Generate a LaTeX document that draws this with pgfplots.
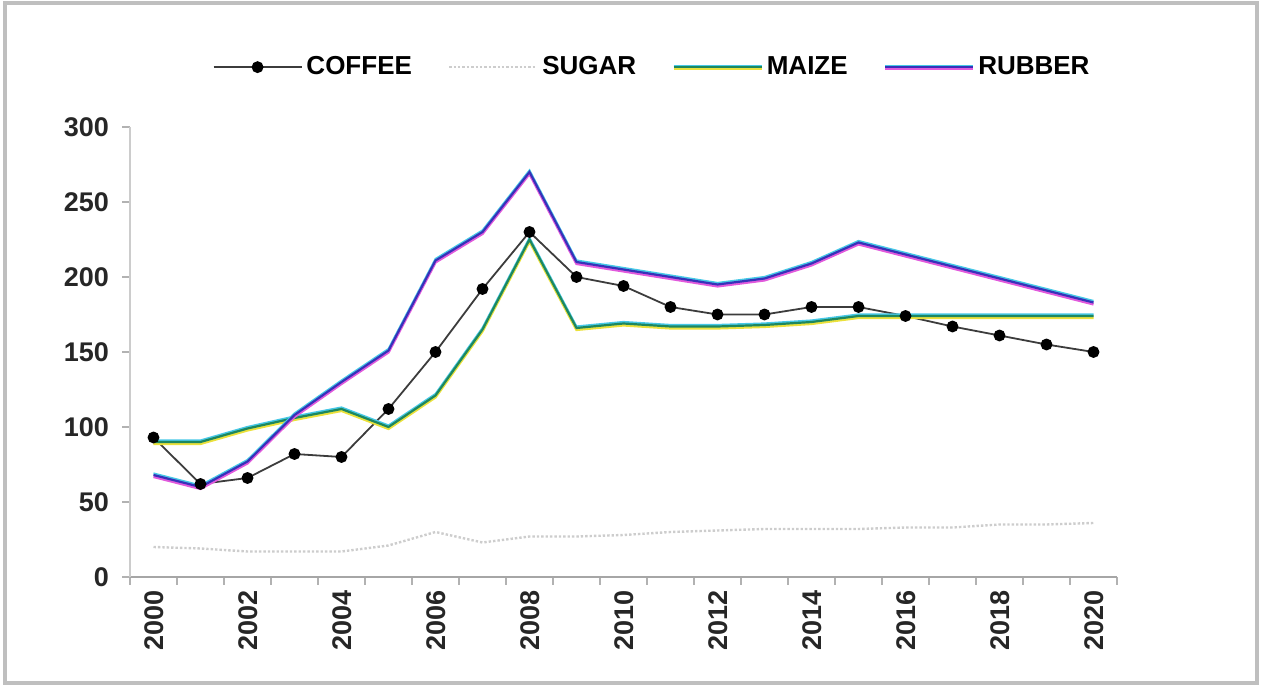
\documentclass[border=0pt]{standalone}
\usepackage{pgfplots}
\pgfplotsset{compat=1.18}
\usepackage{pgfplotstable}
\usepackage{fontspec}
\setmainfont{Liberation Sans}

\definecolor{coffeeline}{RGB}{60,60,60}
\definecolor{sugarline}{RGB}{205,205,205}
\definecolor{maizeline}{RGB}{30,135,95}
\definecolor{maizelow}{RGB}{235,225,60}
\definecolor{rubberline}{RGB}{55,50,185}
\definecolor{rubberlow}{RGB}{225,90,220}
\definecolor{cyanedge}{RGB}{70,200,230}

\pgfplotsset{
  maizeleg/.style={legend image code/.code={
    \draw[maizelow, line width=1.3pt] (0pt,-0.9pt) -- (44pt,-0.9pt);
    \draw[cyanedge, line width=1pt] (0pt,0.8pt) -- (44pt,0.8pt);
    \draw[maizeline, line width=1.1pt] (0pt,0pt) -- (44pt,0pt);}},
  rubberleg/.style={legend image code/.code={
    \draw[rubberlow, line width=1.3pt] (0pt,-0.9pt) -- (44pt,-0.9pt);
    \draw[cyanedge, line width=1pt] (0pt,0.8pt) -- (44pt,0.8pt);
    \draw[rubberline, line width=1.1pt] (0pt,0pt) -- (44pt,0pt);}},
  longleg/.style={legend image code/.code={\draw[mark repeat=2,mark phase=2,##1]
    plot coordinates {(0pt,0pt)(22pt,0pt)(44pt,0pt)};}},
}

\pgfplotstableread{
year coffee sugar maize rubber
2000 93 20 90 68
2001 62 19 90 60
2002 66 17 99 77
2003 82 17 106 108
2004 80 17 112 130
2005 112 21 100 151
2006 150 30 121 211
2007 192 23 165 230
2008 230 27 225 270
2009 200 27 166 210
2010 194 28 169 205
2011 180 30 167 200
2012 175 31 167 195
2013 175 32 168 199
2014 180 32 170 209
2015 180 32 174 223
2016 174 33 174 215
2017 167 33 174 207
2018 161 35 174 199
2019 155 35 174 191
2020 150 36 174 183
}\prices

\begin{document}
\begin{tikzpicture}
\useasboundingbox (-65pt,-56pt) rectangle (566.5pt,288.5pt);
\draw[gray!50, line width=1.6pt] (-62.5pt,-53pt) rectangle (563.5pt,287pt);
\begin{axis}[
  at={(0pt,0pt)}, anchor=south west,
  scale only axis, width=493.5pt, height=225pt,
  xmin=1999.5, xmax=2020.5, ymin=0, ymax=300,
  axis lines=left, axis line style={-},
  x axis line style={gray!70, line width=0.8pt},
  y axis line style={gray!40, line width=0.6pt},
  tick align=outside, major tick length=0pt, minor tick length=4pt,
  tick style={gray!60, line width=0.6pt},
  xtick={2000,2002,...,2020},
  minor xtick={1999.5,2000.5,...,2020.5},
  xticklabel style={rotate=90, anchor=east, yshift=-0.5pt, xshift=-3pt},
  ytick={0,50,...,300},
  minor ytick={0,50,...,300},
  yticklabel style={xshift=-7pt},
  tick label style={font=\bfseries\fontsize{13.5}{15}\selectfont, text=black!85},
  /pgf/number format/assume math mode=true,
  /pgf/number format/1000 sep={},
  legend columns=4,
  legend style={draw=none, fill=none, at={(0.53,1.133)}, anchor=center,
    font=\bfseries\fontsize{13}{15}\selectfont,
    /tikz/every even column/.append style={column sep=16pt}},
  longleg,
]
\addplot[coffeeline, line width=0.9pt, mark=*, mark size=2.5pt,
  mark options={black, fill=black}] table[x=year,y=coffee]{\prices};
\addlegendentry{COFFEE}

\addplot[sugarline, line width=1.2pt, densely dotted] table[x=year,y=sugar]{\prices};
\addlegendentry{SUGAR}

\addplot[maizelow, line width=1.3pt, yshift=-0.9pt, forget plot] table[x=year,y=maize]{\prices};
\addplot[cyanedge, line width=1pt, yshift=0.8pt, forget plot] table[x=year,y=maize]{\prices};
\addplot[maizeline, line width=1.1pt, maizeleg] table[x=year,y=maize]{\prices};
\addlegendentry{MAIZE}

\addplot[rubberlow, line width=1.3pt, yshift=-0.9pt, forget plot] table[x=year,y=rubber]{\prices};
\addplot[cyanedge, line width=1pt, yshift=0.8pt, forget plot] table[x=year,y=rubber]{\prices};
\addplot[rubberline, line width=1.1pt, rubberleg] table[x=year,y=rubber]{\prices};
\addlegendentry{RUBBER}
\end{axis}
\end{tikzpicture}
\end{document}
